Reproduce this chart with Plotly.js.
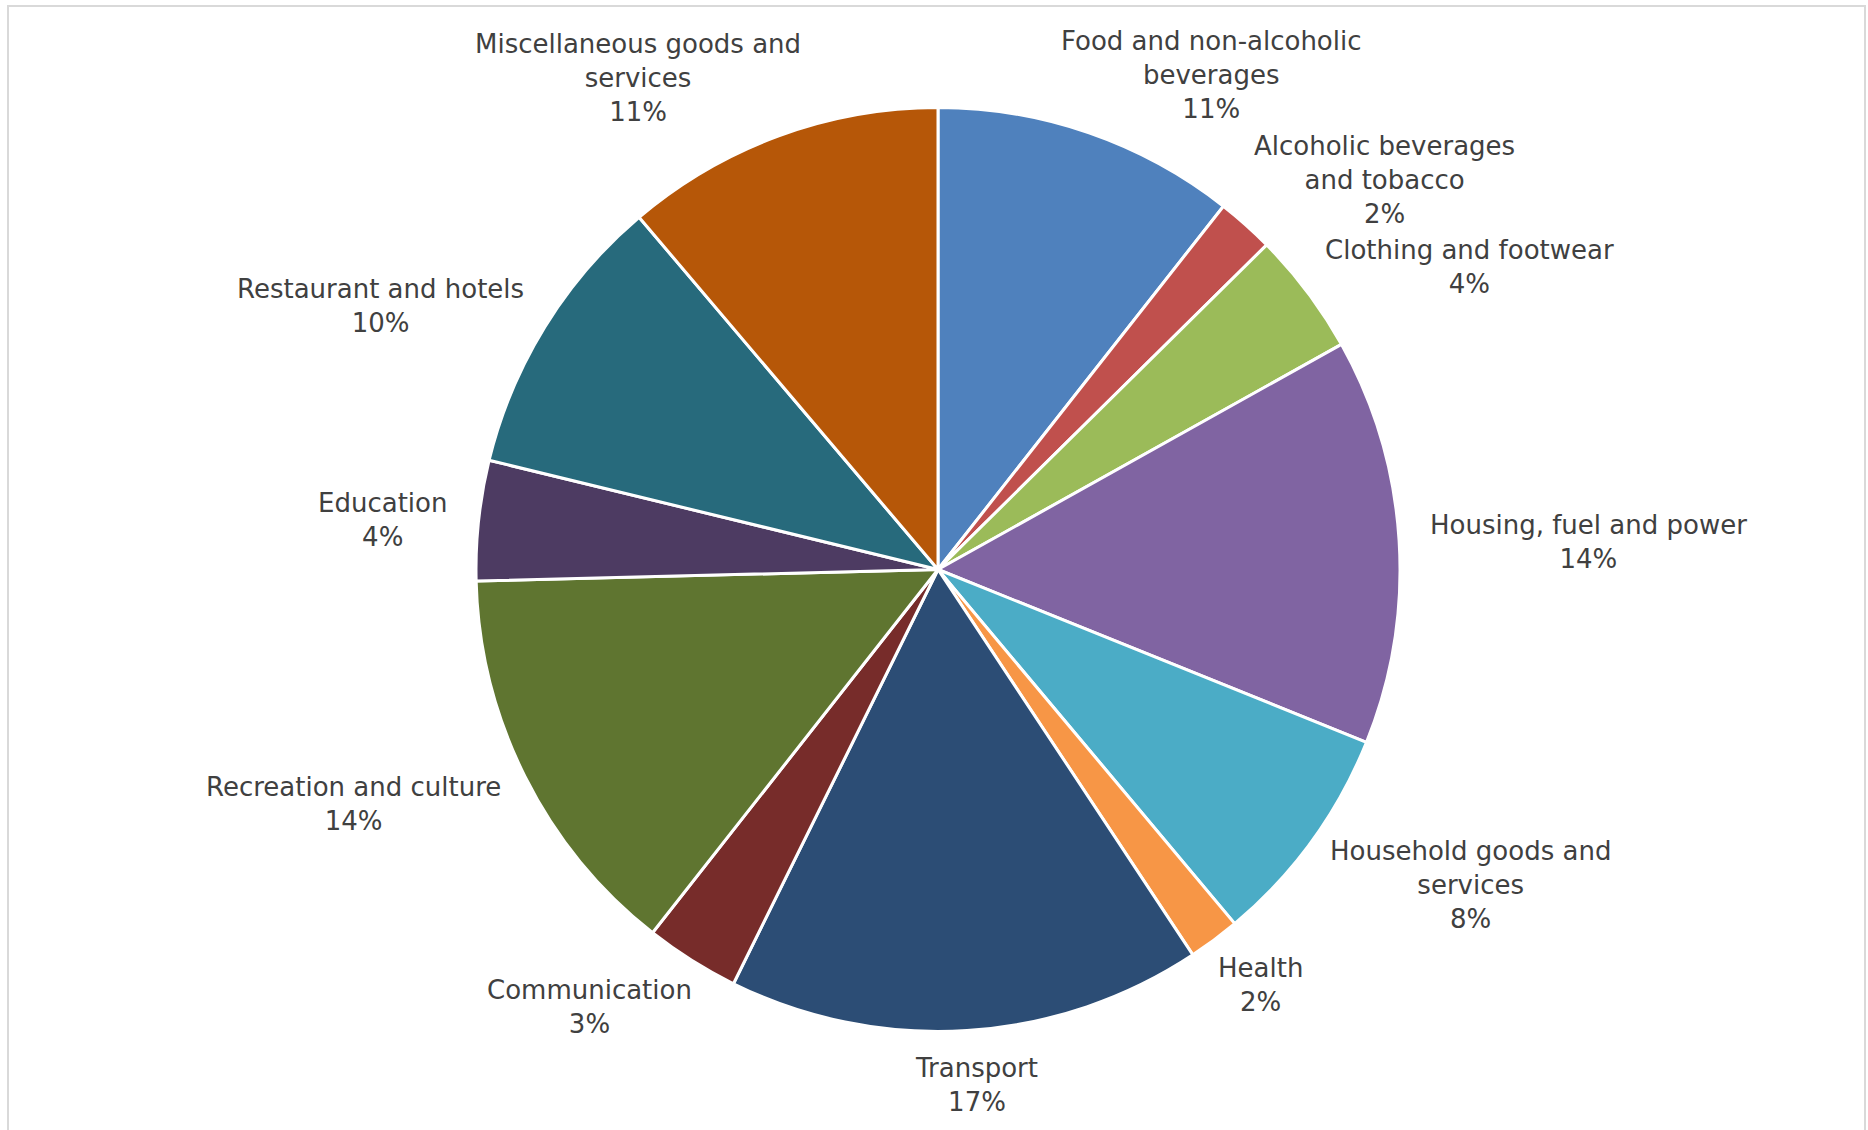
<!DOCTYPE html>
<html><head><meta charset="utf-8">
<script src="https://cdn.plot.ly/plotly-3.0.1.min.js"></script>
<style>html,body{margin:0;padding:0;background:#fff;} #chart{width:1868px;height:1130px;}</style>
</head><body><div id="chart"></div>
<script>
// ---- data ----
const categories = [
  "Food and non-alcoholic beverages",
  "Alcoholic beverages and tobacco",
  "Clothing and footwear",
  "Housing, fuel and power",
  "Household goods and services",
  "Health",
  "Transport",
  "Communication",
  "Recreation and culture",
  "Education",
  "Restaurant and hotels",
  "Miscellaneous goods and services"
];
const labelText = [
  "Food and non-alcoholic<br>beverages",
  "Alcoholic beverages<br>and tobacco",
  "Clothing and footwear",
  "Housing, fuel and power",
  "Household goods and<br>services",
  "Health",
  "Transport",
  "Communication",
  "Recreation and culture",
  "Education",
  "Restaurant and hotels",
  "Miscellaneous goods and<br>services"
];
const shares = [10.6, 2.0, 4.3, 14.2, 7.8, 1.8, 16.6, 3.3, 14.0, 4.2, 10.0, 11.2];
const colors = ["#4F81BD","#C0504D","#9BBB59","#8064A2","#4BACC6","#F79646",
                "#2C4D75","#772C2A","#5F7530","#4D3B62","#276A7C","#B65708"];

// ---- layout constants ----
const W = 1868, H = 1130;
const CX = 938, CY = 569.5, R = 462;
const FONT_FAMILY = '"DejaVu Sans", sans-serif';
const FONT_SIZE = 26;
const LINE_H = FONT_SIZE * 1.3;
const GAP_Y = 16;

const total = shares.reduce((a, b) => a + b, 0);
const canvas = document.createElement('canvas');
const ctx = canvas.getContext('2d');
ctx.font = FONT_SIZE + 'px ' + FONT_FAMILY;

const annotations = [];
let cum = 0;
shares.forEach((v, i) => {
  const pct = Math.round(v / total * 100) + '%';
  const text = labelText[i] + '<br>' + pct;
  const lines = text.split('<br>');
  const w = Math.max(...lines.map(l => ctx.measureText(l).width));
  const h = lines.length * LINE_H;
  const mid = (cum + v / 2) / total * 2 * Math.PI;
  cum += v;
  const s = Math.sin(mid), c = Math.cos(mid);
  // outside-end placement: labels beside the slice get a wider horizontal gap
  const gx = Math.sign(s) * 70 * Math.max(0, Math.abs(s) - 0.55);
  const ax = CX + R * s + gx;
  const ay = CY - (R + GAP_Y) * c + 5;
  const fx = 0.5 - 0.5 * Math.max(-1, Math.min(1, s / 0.4));
  const fy = 0.5 + 0.5 * c;
  const cxBox = ax - fx * w + w / 2;
  const cyBox = ay - fy * h + h / 2;
  annotations.push({
    text: text, showarrow: false, xref: 'paper', yref: 'paper',
    x: cxBox / W, y: 1 - cyBox / H, xanchor: 'center', yanchor: 'middle', align: 'center',
    font: {family: FONT_FAMILY, size: FONT_SIZE, color: '#404040'}
  });
});

const trace = {
  type: 'pie',
  labels: categories,
  values: shares,
  sort: false,
  direction: 'clockwise',
  rotation: 0,
  textinfo: 'none',
  hoverinfo: 'label+percent',
  marker: {colors: colors, line: {color: '#FFFFFF', width: 3}},
  domain: {x: [(CX - R) / W, (CX + R) / W], y: [1 - (CY + R) / H, 1 - (CY - R) / H]},
  showlegend: false
};

const layout = {
  width: W, height: H,
  margin: {l: 0, r: 0, t: 0, b: 0},
  paper_bgcolor: '#FFFFFF',
  showlegend: false,
  annotations: annotations,
  shapes: [{
    type: 'rect', xref: 'paper', yref: 'paper',
    x0: 8 / W, x1: 1865 / W, y0: -0.05, y1: 1 - 6 / H,
    line: {color: '#D9D9D9', width: 2}, fillcolor: 'rgba(0,0,0,0)'
  }]
};

Plotly.newPlot('chart', [trace], layout, {displayModeBar: false, staticPlot: true});
</script>
</body></html>
